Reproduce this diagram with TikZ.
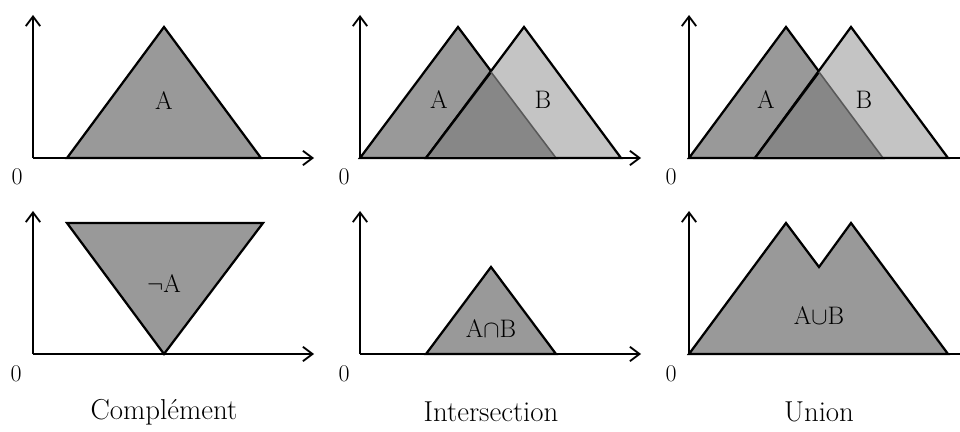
\documentclass[tikz,border=0pt]{standalone}
\usepackage{tikz}
\usetikzlibrary{arrows.meta}

\begin{document}
\begin{tikzpicture}[
  x=0.025cm, y=-0.025cm,
  font=\fontsize{18}{21}\selectfont,
  axis/.style={line width=2.1pt, -{Straight Barb[length=2.4mm, width=3.6mm, line width=1.3pt]}},
  setA/.style={fill=black!40, draw=black, line width=1.6pt, line join=miter},
  setB/.style={fill=black!23, draw=black, line width=1.6pt, line join=miter},
  both/.style={fill=black!47},
  zero/.style={font=\fontsize{17}{20}\selectfont},
  caption/.style={font=\fontsize{20.5}{24}\selectfont}
]
\useasboundingbox (0,0) rectangle (960,432);

% complement
\draw[setA] (67,158) -- (164,27) -- (261,158) -- cycle;
\node (lblA) at (164,101) {A};
\draw[setA] (67,223) -- (263,223) -- (164,354) -- cycle;
\node (lblnotA) at (164,284) {$\neg$A};

% intersection
\draw[setA] (360,158) -- (458,27) -- (556,158) -- cycle;
\draw[setB] (426,158) -- (524,27) -- (621,158) -- cycle;
\fill[both] (426,158) -- (491,72) -- (556,158) -- cycle;
\draw[line width=1.6pt] (426,158) -- (491,72);
\draw[black!65, line width=1.1pt] (491,72) -- (556,158);
\node (interA) at (439,100) {A};
\node (interB) at (543,100) {B};
\draw[setA] (426,354) -- (491,267) -- (556,354) -- cycle;
\node (lblAnB) at (491,329) {A$\cap$B};

% union
\draw[setA] (689,158) -- (786,27) -- (883,158) -- cycle;
\draw[setB] (755,158) -- (851,27) -- (948,158) -- cycle;
\fill[both] (755,158) -- (819,72) -- (883,158) -- cycle;
\draw[line width=1.6pt] (755,158) -- (819,72);
\draw[black!65, line width=1.1pt] (819,72) -- (883,158);
\node (unionA) at (766,100) {A};
\node (unionB) at (864,100) {B};
\draw[setA] (689,354) -- (786,223) -- (819,267) -- (851,223) -- (948,354) -- cycle;
\node (lblAuB) at (819,316) {A$\cup$B};

% axes
\foreach \ox/\len in {33/281,360/281,689/300}{
  \foreach \oy in {158,354}{
    \draw[axis] (\ox,\oy) -- ++(0,-143);
    \draw[axis] (\ox,\oy) -- ++(\len,0);
  }
}
\foreach \ox/\oy [count=\i] in {17/177,344/177,671/177,16/374,344/374,671/374}
  \node[zero] (zero\i) at (\ox,\oy) {0};

\node[caption] (capC) at (164,412) {Complément};
\node[caption] (capI) at (491,412) {Intersection};
\node[caption] (capU) at (819,412) {Union};
\end{tikzpicture}
\end{document}
